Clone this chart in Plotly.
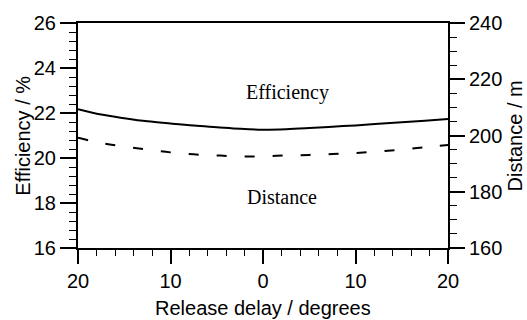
import plotly.graph_objects as go

release_delay = [-20, -17.5, -15, -12.5, -10, -7.5, -5, -2.5, 0, 2.5, 5, 7.5, 10, 12.5, 15, 17.5, 20]
efficiency = [22.17, 21.93, 21.77, 21.63, 21.53, 21.44, 21.37, 21.30, 21.26, 21.28, 21.33, 21.39, 21.45, 21.52, 21.59, 21.66, 21.73]
distance = [199.2, 197.3, 196.1, 195.0, 194.0, 193.3, 192.9, 192.6, 192.6, 192.9, 193.1, 193.4, 193.8, 194.3, 195.0, 195.8, 196.6]

x_tickvals = [-20, -10, 0, 10, 20]
x_ticktext = ["20", "10", "0", "10", "20"]

SANS = "Liberation Sans, Arial, sans-serif"
SERIF = "Liberation Serif, Times New Roman, serif"

fig = go.Figure()
fig.add_trace(go.Scatter(x=release_delay, y=efficiency, mode="lines",
                         line=dict(color="black", width=2, shape="spline"),
                         yaxis="y", showlegend=False))
fig.add_trace(go.Scatter(x=release_delay, y=distance, mode="lines",
                         line=dict(color="black", width=2, dash="10px,18px", shape="spline"),
                         yaxis="y2", showlegend=False))

fig.update_layout(
    width=527, height=320,
    margin=dict(l=78, r=79, t=19, b=72),
    paper_bgcolor="white", plot_bgcolor="white",
    font=dict(family=SANS, size=20, color="black"),
    xaxis=dict(range=[-20, 20], tickvals=x_tickvals, ticktext=x_ticktext,
               ticks="outside", ticklen=14, tickwidth=1.5, tickcolor="black",
               showline=True, linewidth=2, linecolor="black", mirror=True,
               showgrid=False, zeroline=False,
               minor=dict(dtick=2, ticks="outside", ticklen=6, tickwidth=1, tickcolor="black"),
               tickfont=dict(family=SANS, size=20)),
    yaxis=dict(range=[16, 26], dtick=2, tick0=16,
               ticks="outside", ticklen=16, tickwidth=1.5, tickcolor="black",
               showline=True, linewidth=2, linecolor="black",
               showgrid=False, zeroline=False,
               minor=dict(dtick=0.4, tick0=16, ticks="outside", ticklen=7, tickwidth=1, tickcolor="black"),
               tickfont=dict(family=SANS, size=20)),
    yaxis2=dict(range=[160, 240], dtick=20, tick0=160, overlaying="y", side="right",
                ticks="outside", ticklen=15, tickwidth=1.5, tickcolor="black",
                showline=True, linewidth=2, linecolor="black",
                showgrid=False, zeroline=False,
                minor=dict(dtick=5, tick0=160, ticks="outside", ticklen=7, tickwidth=1, tickcolor="black"),
                tickfont=dict(family=SANS, size=20)),
    annotations=[
        dict(text="Efficiency / %", xref="paper", yref="paper", x=-0.151, y=0.5,
             textangle=-90, showarrow=False, xanchor="center", yanchor="middle",
             font=dict(family=SANS, size=20)),
        dict(text="Distance / m", xref="paper", yref="paper", x=1.181, y=0.5,
             textangle=-90, showarrow=False, xanchor="center", yanchor="middle",
             font=dict(family=SANS, size=20)),
        dict(text="Release delay / degrees", xref="paper", yref="paper", x=0.5, y=-0.266,
             showarrow=False, xanchor="center", yanchor="middle",
             font=dict(family=SANS, size=20)),
        dict(text="Efficiency", xref="x", yref="y", x=2.7, y=22.9,
             showarrow=False, xanchor="center", yanchor="middle",
             font=dict(family=SERIF, size=20)),
        dict(text="Distance", xref="x", yref="y", x=2.0, y=18.27,
             showarrow=False, xanchor="center", yanchor="middle",
             font=dict(family=SERIF, size=20)),
    ],
)

fig.write_html("out.html")
